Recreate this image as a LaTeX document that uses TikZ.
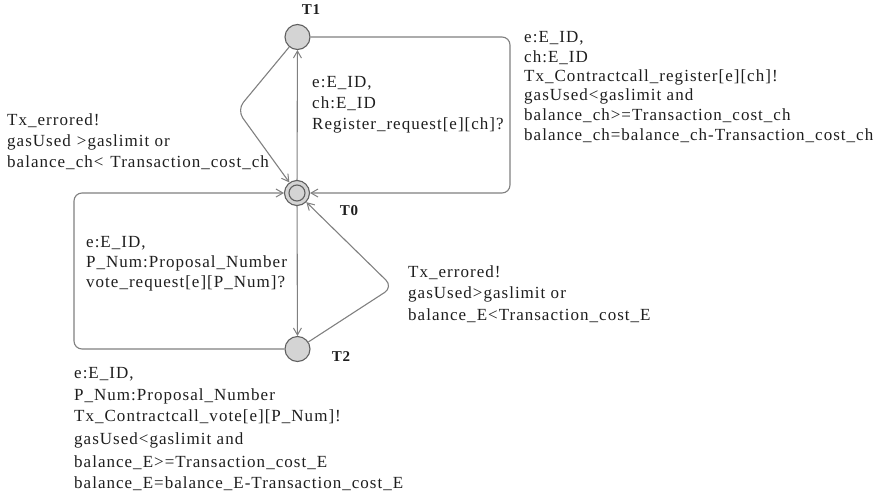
\documentclass[tikz,border=0pt]{standalone}
\usepackage{fontspec}
\setmainfont{Liberation Serif}[LetterSpace=6.0]
\usetikzlibrary{arrows.meta}
\definecolor{edgegray}{RGB}{128,128,128}
\definecolor{locfill}{RGB}{212,212,212}
\definecolor{locdraw}{RGB}{96,96,96}
\definecolor{txt}{RGB}{30,30,30}
\tikzset{
  loc/.style={circle, draw=locdraw, fill=locfill, line width=1.1pt, minimum size=25pt, inner sep=0pt},
  locin/.style={circle, draw=locdraw, line width=1.1pt, minimum size=16pt, inner sep=0pt},
  locname/.style={font=\fontsize{15}{18}\selectfont\bfseries, text=txt, inner sep=0pt},
  lbl/.style={font=\fontsize{17}{20}\selectfont, text=txt, anchor=base west, inner sep=0pt},
  edge/.style={draw=edgegray, line width=1.1pt, -{Straight Barb[length=7pt,width=8pt,line width=1pt]}}
}
\begin{document}
\begin{tikzpicture}[x=1pt,y=-1pt]
\useasboundingbox (0,0) rectangle (888,501);
% locations
\node[loc] (T1) at (297.5,37) {};
\node[loc] (T0) at (297,193) {};
\node[locin] (T0in) at (297,193) {};
\node[loc] (T2) at (297.5,349) {};
\node[locname] (nT1) at (311,10) {T1};
\node[locname] (nT0) at (349,211) {T0};
\node[locname] (nT2) at (341,357) {T2};
% corner coordinates
\coordinate (c1) at (510,37);
\coordinate (c2) at (510,193);
\coordinate (c3) at (237,110);
\coordinate (c4) at (74,349);
\coordinate (c5) at (74,193);
\coordinate (c6) at (393,287);
% edges
\draw[edge] (T0) -- (T1);
\draw[edge, rounded corners=8pt] (T1.east) -- (c1) -- (c2) -- (T0.east);
\draw[edge, rounded corners=10pt] (T1) -- (c3) -- (T0);
\draw[edge] (T0) -- (T2);
\draw[edge, rounded corners=8pt] (T2.west) -- (c4) -- (c5) -- (T0.west);
\draw[edge, rounded corners=10pt] (T2) -- (c6) -- (T0);
% labels: register request (T0 -> T1)
\node[lbl] (r1) at (312,87) {e:E\_ID,};
\node[lbl] (r2) at (312,108) {ch:E\_ID};
\node[lbl] (r3) at (312,129) {Register\_request[e][ch]?};
% labels: right loop (T1 -> T0)
\node[lbl] (a1) at (524,42) {e:E\_ID,};
\node[lbl] (a2) at (524,62) {ch:E\_ID};
\node[lbl] (a3) at (524,81) {Tx\_Contractcall\_register[e][ch]!};
\node[lbl] (a4) at (524,100) {gasUsed<gaslimit and};
\node[lbl] (a5) at (524,120) {balance\_ch>=Transaction\_cost\_ch};
\node[lbl] (a6) at (524,140) {balance\_ch=balance\_ch-Transaction\_cost\_ch};
% labels: left error (T1 -> T0)
\node[lbl] (b1) at (7,125) {Tx\_errored!};
\node[lbl] (b2) at (7,146) {gasUsed\hspace{6pt}>gaslimit or};
\node[lbl] (b3) at (7,167) {balance\_ch<\hspace{7pt}Transaction\_cost\_ch};
% labels: vote request (T0 -> T2)
\node[lbl] (v1) at (86,247) {e:E\_ID,};
\node[lbl] (v2) at (86,267) {P\_Num:Proposal\_Number};
\node[lbl] (v3) at (86,287) {vote\_request[e][P\_Num]?};
% labels: bottom loop (T2 -> T0)
\node[lbl] (d1) at (74,378) {e:E\_ID,};
\node[lbl] (d2) at (74,400) {P\_Num:Proposal\_Number};
\node[lbl] (d3) at (74,421) {Tx\_Contractcall\_vote[e][P\_Num]!};
\node[lbl] (d4) at (74,444) {gasUsed<gaslimit and};
\node[lbl] (d5) at (74,467) {balance\_E>=Transaction\_cost\_E};
\node[lbl] (d6) at (74,488) {balance\_E=balance\_E-Transaction\_cost\_E};
% labels: right error (T2 -> T0)
\node[lbl] (e1) at (408,277) {Tx\_errored!};
\node[lbl] (e2) at (408,298) {gasUsed>gaslimit or};
\node[lbl] (e3) at (408,320) {balance\_E<Transaction\_cost\_E};
\end{tikzpicture}
\end{document}
